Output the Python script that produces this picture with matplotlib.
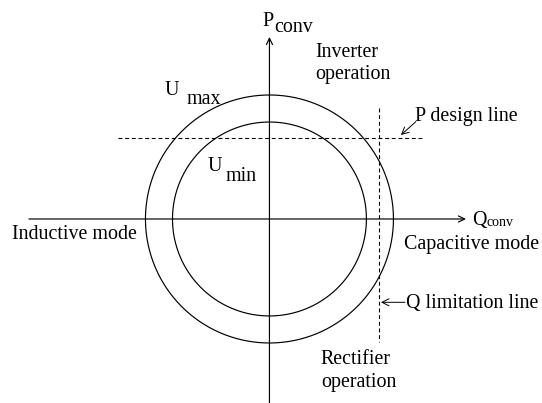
import numpy as np
import matplotlib
matplotlib.use("Agg")
import matplotlib.pyplot as plt

plt.rcParams['font.family'] = ['Liberation Serif', 'DejaVu Serif']

# circle radii (U_max, U_min), relative to U_max
radii = [1.0, 0.782]
# design limits
p_design = 0.657
q_limit = 0.881
p_line_x = [-1.222, 1.227]
q_line_y = [0.895, -0.99]

FS = 14.4

fig = plt.figure(figsize=(5.42, 4.03), dpi=100)
ax = fig.add_axes([0, 0, 1, 1])
ax.set_xlim(-2.173, 2.198)
ax.set_ylim(-1.484, 1.766)
ax.axis('off')

# circles
t = np.linspace(0, 2 * np.pi, 400)
for r in radii:
    ax.plot(r * np.cos(t), r * np.sin(t), color='black', lw=0.85)

# axes with arrows
arr = dict(arrowstyle='->,head_length=0.45,head_width=0.22', lw=0.85,
           color='black', shrinkA=0, shrinkB=0)
ax.annotate('', xy=(1.585, 0), xytext=(-1.94, 0), arrowprops=arr)
ax.annotate('', xy=(0, 1.468), xytext=(0, -1.52), arrowprops=arr)

# dashed design lines
ax.plot(p_line_x, [p_design, p_design], color='black', lw=0.8, dashes=(3.5, 2.5))
ax.plot([q_limit, q_limit], q_line_y, color='black', lw=0.8, dashes=(3.5, 2.5))

# pointers to the dashed lines
arr2 = dict(arrowstyle='->,head_length=0.5,head_width=0.25', lw=0.7,
            color='black', shrinkA=0, shrinkB=0)
ax.annotate('', xy=(1.06, 0.677), xytext=(1.181, 0.785), arrowprops=arr2)
ax.annotate('', xy=(0.899, -0.672), xytext=(1.093, -0.672), arrowprops=arr2)

# labels
def txt(x, y, s, fs=FS):
    ax.text(x, y, s, fontsize=fs, ha='left', va='baseline')

txt(-0.055, 1.556, 'P')
txt(0.036, 1.51, 'conv')
txt(1.632, -0.048, 'Q')
txt(1.752, -0.056, 'conv', fs=10)
txt(0.367, 1.306, 'Inverter')
txt(0.367, 1.129, 'operation')
txt(-0.843, 1.0, 'U')
txt(-0.665, 0.927, 'max')
txt(-0.502, 0.39, 'U')
txt(-0.351, 0.306, 'min')
txt(1.173, 0.793, 'P design line')
txt(-2.077, -0.164, 'Inductive mode')
txt(1.085, -0.242, 'Capacitive mode')
txt(1.101, -0.718, 'Q limitation line')
txt(0.415, -1.169, 'Rectifier')
txt(0.415, -1.355, 'operation')

fig.savefig('out.png', dpi=100)
